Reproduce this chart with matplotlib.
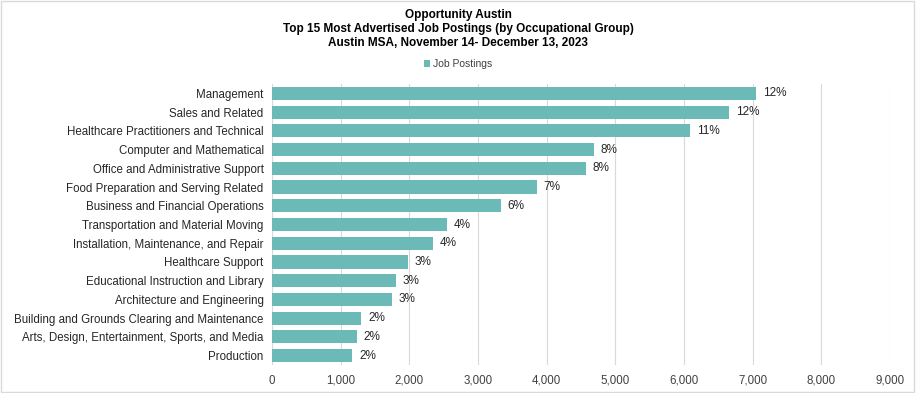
import matplotlib
matplotlib.use("Agg")
import matplotlib.pyplot as plt
from matplotlib.patches import Rectangle
from matplotlib.ticker import FuncFormatter

# Occupational groups, top to bottom
categories = [
    "Management",
    "Sales and Related",
    "Healthcare Practitioners and Technical",
    "Computer and Mathematical",
    "Office and Administrative Support",
    "Food Preparation and Serving Related",
    "Business and Financial Operations",
    "Transportation and Material Moving",
    "Installation, Maintenance, and Repair",
    "Healthcare Support",
    "Educational Instruction and Library",
    "Architecture and Engineering",
    "Building and Grounds Clearing and Maintenance",
    "Arts, Design, Entertainment, Sports, and Media",
    "Production",
]
postings = [7055, 6652, 6089, 4683, 4566, 3857, 3333, 2547, 2348, 1980,
            1805, 1747, 1300, 1237, 1169]
share_labels = ["12%", "12%", "11%", "8%", "8%", "7%", "6%", "4%", "4%",
                "3%", "3%", "3%", "2%", "2%", "2%"]
x_ticks = [0, 1000, 2000, 3000, 4000, 5000, 6000, 7000, 8000, 9000]

title_lines = "Opportunity Austin\nTop 15 Most Advertised Job Postings (by Occupational Group)\nAustin MSA, November 14- December 13, 2023"

BAR_COLOR = "#6cbab7"
TEXT_COLOR = "#262626"

plt.rcParams['font.family'] = ['Liberation Sans', 'DejaVu Sans']

fig = plt.figure(figsize=(9.16, 3.93), dpi=100)
ax = fig.add_axes([272 / 916, 1 - 365 / 393, (890 - 272) / 916, (365 - 84) / 393])

y_pos = list(range(len(categories)))
bars = ax.barh(y_pos, postings, height=0.7, color=BAR_COLOR, label="Job Postings", zorder=3)
ax.bar_label(bars, labels=share_labels, padding=5, fontsize=8.5, color=TEXT_COLOR)

ax.set_ylim(len(categories) - 0.5, -0.5)
ax.set_yticks(y_pos)
ax.set_yticklabels(categories, fontsize=8.3, color=TEXT_COLOR)
ax.set_xlim(0, 9000)
ax.set_xticks(x_ticks)
ax.xaxis.set_major_formatter(FuncFormatter(lambda v, p: f"{int(v):,}"))
ax.tick_params(axis='x', labelsize=8.3, colors="#404040", length=0, pad=7)
ax.tick_params(axis='y', length=0, pad=6)
ax.grid(axis='x', color="#d9d9d9", linewidth=0.8, zorder=0)
for spine in ax.spines.values():
    spine.set_visible(False)

fig.text(0.5, 1 - 9 / 393, title_lines, ha='center', va='top', fontsize=8.5,
         fontweight='bold', linespacing=1.22, color="#000000",
         family=['Liberation Sans Narrow', 'Liberation Sans', 'DejaVu Sans'])

fig.legend(handles=[bars], labels=["Job Postings"], loc='center',
           bbox_to_anchor=(0.5, 1 - 64 / 393), frameon=False,
           handlelength=0.6, handleheight=0.6, handletextpad=0.3,
           labelcolor="#404040",
           prop={'family': ['Liberation Sans Narrow', 'Liberation Sans'], 'size': 7.5})

# light border round the whole chart
fig.patches.append(Rectangle((0.001, 0.002), 0.997, 0.995, transform=fig.transFigure,
                             fill=False, edgecolor="#d9d9d9", linewidth=1))

fig.savefig("out.png", dpi=100)
